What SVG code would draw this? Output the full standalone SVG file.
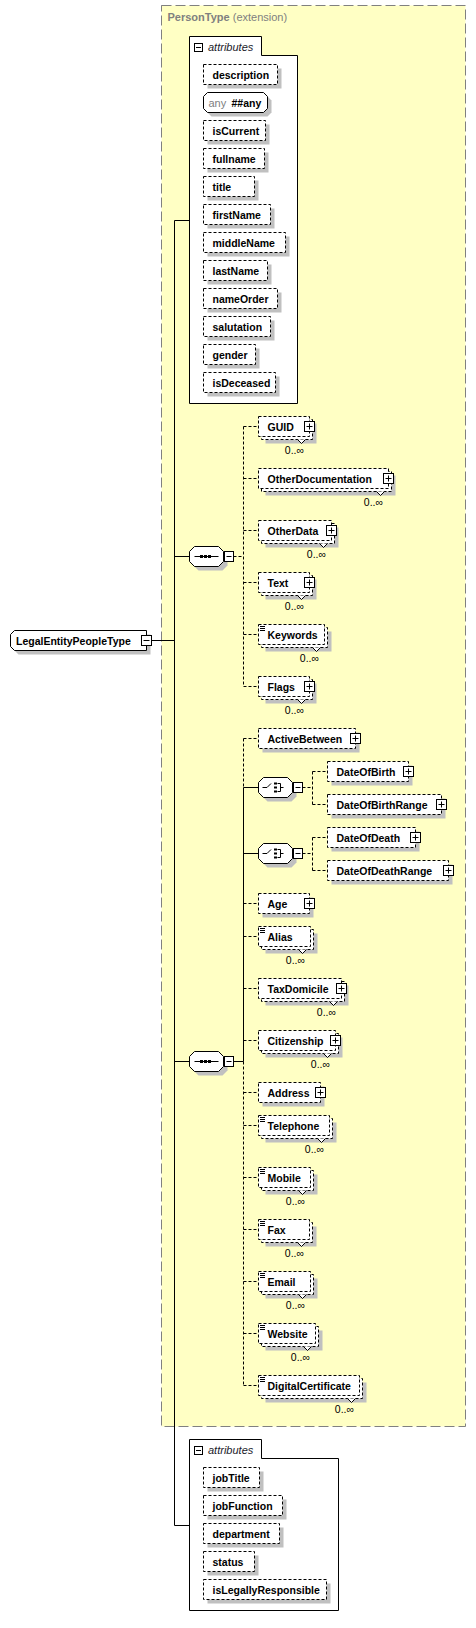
<svg xmlns="http://www.w3.org/2000/svg" xmlns:xlink="http://www.w3.org/1999/xlink" width="476" height="1628" viewBox="0 0 476 1628">
<style>
.sh{fill:#c0c0c0}
.el{fill:#fff;stroke:#000;stroke-dasharray:3,2}
.so{fill:#fff;stroke:#000}
.nt{fill:#fff;stroke:#000}
.ln{stroke:#000;fill:none}
.dl{stroke:#000;fill:none;stroke-dasharray:3,2}
.t{font-family:"Liberation Sans",Arial,sans-serif;font-size:10.5px;font-weight:bold;fill:#000}
.o{font-family:"Liberation Sans",Arial,sans-serif;font-size:10.5px;fill:#000;text-anchor:end}
.at{font-family:"Liberation Sans",Arial,sans-serif;font-size:11px;font-style:italic;fill:#1a1a2a}
.g{font-family:"Liberation Sans",Arial,sans-serif;font-size:11px;fill:#808080}
</style>
<defs>
<g id="pl"><rect width="10" height="10" class="so"/><path d="M2,5H8M5,2V8" class="ln"/></g>
<g id="mi"><rect width="10" height="10" class="so"/><path d="M2,5H8" class="ln"/></g>
<g id="mc"><rect width="9" height="10" class="so"/><path d="M2,5H7" class="ln"/></g>
<g id="ma"><rect width="8" height="8" class="so"/><path d="M1.5,4H6.5" class="ln"/></g>
</defs>

<g id="PersonType">
<rect x="161.5" y="5.5" width="304" height="1421" fill="#ffffc4" stroke="#808080" stroke-dasharray="10,4"/>
<text class="g" x="167.5" y="21"><tspan font-weight="bold">PersonType</tspan> (extension)</text>
</g>

<g id="connectors">
<path class="ln" d="M151.5,640.5H174.5M174.5,220.5V1525.5M174.5,220.5H189.5M174.5,556.5H189.5M174.5,1061.5H189.5M174.5,1525.5H189.5"/>
<path class="dl" d="M233.5,556.5H243.5M243.5,426.5V686.5M243.5,426.5H258.5M243.5,478.5H258.5M243.5,530.5H258.5M243.5,582.5H258.5M243.5,634.5H258.5M243.5,686.5H258.5"/>
<path class="ln" d="M233.5,1061.5H243.5M243.5,787.5V1061.5M243.5,787.5H258.5M243.5,853.5H258.5"/>
<path class="dl" d="M243.5,738.5V787.5M243.5,1061.5V1385.5M243.5,738.5H258.5M243.5,903.5H258.5M243.5,936.5H258.5M243.5,988.5H258.5M243.5,1040.5H258.5M243.5,1092.5H258.5M243.5,1125.5H258.5M243.5,1177.5H258.5M243.5,1229.5H258.5M243.5,1281.5H258.5M243.5,1333.5H258.5M243.5,1385.5H258.5"/>
<path class="dl" d="M302.5,787.5H312.5M312.5,771.5V804.5M312.5,771.5H327.5M312.5,804.5H327.5M302.5,853.5H312.5M312.5,837.5V870.5M312.5,837.5H327.5M312.5,870.5H327.5"/>
</g>

<g id="LegalEntityPeopleType">
<path class="sh" d="M18.5,634.5H150.5V654.5H18.5L14.5,650.5V638.5Z"/>
<path class="so" d="M14.5,630.5H146.5V650.5H14.5L10.5,646.5V634.5Z"/>
<text class="t" x="16" y="644.5">LegalEntityPeopleType</text>
<use xlink:href="#mi" x="141.5" y="635.5"/>
</g>

<g id="attributes1">
<path class="so" d="M189.5,36.5H261.5V55.5H297.5V403.5H189.5Z"/>
<use xlink:href="#ma" x="194.5" y="43.5"/>
<text class="at" x="208" y="50.5">attributes</text>
<g id="a-description"><rect class="sh" x="207.5" y="68.5" width="74" height="20"/><rect class="el" x="203.5" y="64.5" width="74" height="20"/><text class="t" x="212.5" y="78.5">description</text></g>
<g id="a-any"><path class="sh" d="M211.5,96.5H267.5L271.5,100.5V112.5L267.5,116.5H211.5L207.5,112.5V100.5Z"/><path class="so" d="M207.5,92.5H263.5L267.5,96.5V108.5L263.5,112.5H207.5L203.5,108.5V96.5Z"/><text class="g" x="208.5" y="106.5" font-size="10.5">any</text><text class="t" x="231.5" y="106.5">##any</text></g>
<g id="a-isCurrent"><rect class="sh" x="207.5" y="124.5" width="62" height="20"/><rect class="el" x="203.5" y="120.5" width="62" height="20"/><text class="t" x="212.5" y="134.5">isCurrent</text></g>
<g id="a-fullname"><rect class="sh" x="207.5" y="152.5" width="61" height="20"/><rect class="el" x="203.5" y="148.5" width="61" height="20"/><text class="t" x="212.5" y="162.5">fullname</text></g>
<g id="a-title"><rect class="sh" x="207.5" y="180.5" width="51" height="20"/><rect class="el" x="203.5" y="176.5" width="51" height="20"/><text class="t" x="212.5" y="190.5">title</text></g>
<g id="a-firstName"><rect class="sh" x="207.5" y="208.5" width="67" height="20"/><rect class="el" x="203.5" y="204.5" width="67" height="20"/><text class="t" x="212.5" y="218.5">firstName</text></g>
<g id="a-middleName"><rect class="sh" x="207.5" y="236.5" width="82" height="20"/><rect class="el" x="203.5" y="232.5" width="82" height="20"/><text class="t" x="212.5" y="246.5">middleName</text></g>
<g id="a-lastName"><rect class="sh" x="207.5" y="264.5" width="64" height="20"/><rect class="el" x="203.5" y="260.5" width="64" height="20"/><text class="t" x="212.5" y="274.5">lastName</text></g>
<g id="a-nameOrder"><rect class="sh" x="207.5" y="292.5" width="74" height="20"/><rect class="el" x="203.5" y="288.5" width="74" height="20"/><text class="t" x="212.5" y="302.5">nameOrder</text></g>
<g id="a-salutation"><rect class="sh" x="207.5" y="320.5" width="67" height="20"/><rect class="el" x="203.5" y="316.5" width="67" height="20"/><text class="t" x="212.5" y="330.5">salutation</text></g>
<g id="a-gender"><rect class="sh" x="207.5" y="348.5" width="52" height="20"/><rect class="el" x="203.5" y="344.5" width="52" height="20"/><text class="t" x="212.5" y="358.5">gender</text></g>
<g id="a-isDeceased"><rect class="sh" x="207.5" y="376.5" width="72" height="20"/><rect class="el" x="203.5" y="372.5" width="72" height="20"/><text class="t" x="212.5" y="386.5">isDeceased</text></g>
</g>

<g id="sequence1">
<path class="sh" d="M198.5,550.5H222.5L227.5,555.5V565.5L222.5,570.5H198.5L193.5,565.5V555.5Z"/>
<path class="so" d="M194.5,546.5H218.5L223.5,551.5V561.5L218.5,566.5H194.5L189.5,561.5V551.5Z"/>
<path class="ln" d="M194.5,556.5H218.5"/>
<rect x="200" y="555" width="3" height="3"/><rect x="204" y="555" width="3" height="3"/><rect x="208" y="555" width="3" height="3"/>
<use xlink:href="#mc" x="224.5" y="551.5"/>
</g>

<g id="GUID">
<rect class="sh" x="265.5" y="423.5" width="51" height="20"/><rect class="el" x="261.5" y="419.5" width="51" height="20"/>
<path class="nt" d="M297.5,439.5L301.5,443.5L305.5,439.5"/>
<rect class="el" x="258.5" y="416.5" width="51" height="20"/>
<text class="t" x="267.5" y="430.5">GUID</text><use xlink:href="#pl" x="304.5" y="421.5"/>
<text class="o" x="304" y="454">0..∞</text>
</g>
<g id="OtherDocumentation">
<rect class="sh" x="265.5" y="475.5" width="130" height="20"/><rect class="el" x="261.5" y="471.5" width="130" height="20"/>
<path class="nt" d="M376.5,491.5L380.5,495.5L384.5,491.5"/>
<rect class="el" x="258.5" y="468.5" width="130" height="20"/>
<text class="t" x="267.5" y="482.5">OtherDocumentation</text><use xlink:href="#pl" x="383.5" y="473.5"/>
<text class="o" x="383" y="506">0..∞</text>
</g>
<g id="OtherData">
<rect class="sh" x="265.5" y="527.5" width="73" height="20"/><rect class="el" x="261.5" y="523.5" width="73" height="20"/>
<path class="nt" d="M319.5,543.5L323.5,547.5L327.5,543.5"/>
<rect class="el" x="258.5" y="520.5" width="73" height="20"/>
<text class="t" x="267.5" y="534.5">OtherData</text><use xlink:href="#pl" x="326.5" y="525.5"/>
<text class="o" x="326" y="558">0..∞</text>
</g>
<g id="Text">
<rect class="sh" x="265.5" y="579.5" width="51" height="20"/><rect class="el" x="261.5" y="575.5" width="51" height="20"/>
<path class="nt" d="M297.5,595.5L301.5,599.5L305.5,595.5"/>
<rect class="el" x="258.5" y="572.5" width="51" height="20"/>
<text class="t" x="267.5" y="586.5">Text</text><use xlink:href="#pl" x="304.5" y="577.5"/>
<text class="o" x="304" y="610">0..∞</text>
</g>
<g id="Keywords">
<rect class="sh" x="265.5" y="631.5" width="66" height="20"/><rect class="el" x="261.5" y="627.5" width="66" height="20"/>
<path class="nt" d="M312.5,647.5L316.5,651.5L320.5,647.5"/>
<rect class="el" x="258.5" y="624.5" width="66" height="20"/>
<path class="ln" d="M260,626.5H265M260,628.5H265M260,630.5H265"/>
<text class="t" x="267.5" y="638.5">Keywords</text>
<text class="o" x="319" y="662">0..∞</text>
</g>
<g id="Flags">
<rect class="sh" x="265.5" y="683.5" width="51" height="20"/><rect class="el" x="261.5" y="679.5" width="51" height="20"/>
<path class="nt" d="M297.5,699.5L301.5,703.5L305.5,699.5"/>
<rect class="el" x="258.5" y="676.5" width="51" height="20"/>
<text class="t" x="267.5" y="690.5">Flags</text><use xlink:href="#pl" x="304.5" y="681.5"/>
<text class="o" x="304" y="714">0..∞</text>
</g>

<g id="sequence2">
<path class="sh" d="M198.5,1055.5H222.5L227.5,1060.5V1070.5L222.5,1075.5H198.5L193.5,1070.5V1060.5Z"/>
<path class="so" d="M194.5,1051.5H218.5L223.5,1056.5V1066.5L218.5,1071.5H194.5L189.5,1066.5V1056.5Z"/>
<path class="ln" d="M194.5,1061.5H218.5"/>
<rect x="200" y="1060" width="3" height="3"/><rect x="204" y="1060" width="3" height="3"/><rect x="208" y="1060" width="3" height="3"/>
<use xlink:href="#mc" x="224.5" y="1056.5"/>
</g>

<g id="ActiveBetween">
<rect class="sh" x="262.5" y="732.5" width="97" height="20"/><rect class="el" x="258.5" y="728.5" width="97" height="20"/>
<text class="t" x="267.5" y="742.5">ActiveBetween</text><use xlink:href="#pl" x="350.5" y="733.5"/>
</g>

<g id="choice1">
<path class="sh" d="M267.5,781.5H291.5L296.5,786.5V796.5L291.5,801.5H267.5L262.5,796.5V786.5Z"/>
<path class="so" d="M263.5,777.5H287.5L292.5,782.5V792.5L287.5,797.5H263.5L258.5,792.5V782.5Z"/>
<path class="ln" d="M262.5,787.5H267L271,783.5M277.5,783.5H280.5V791.5H277.5M280.5,787.5H283.5"/>
<rect x="274" y="782.5" width="3" height="2"/><rect x="274" y="786.5" width="3" height="2"/><rect x="274" y="790.5" width="3" height="2"/>
<use xlink:href="#mc" x="293.5" y="782.5"/>
</g>
<g id="DateOfBirth">
<rect class="sh" x="331.5" y="765.5" width="81" height="20"/><rect class="el" x="327.5" y="761.5" width="81" height="20"/>
<text class="t" x="336.5" y="775.5">DateOfBirth</text><use xlink:href="#pl" x="403.5" y="766.5"/>
</g>
<g id="DateOfBirthRange">
<rect class="sh" x="331.5" y="798.5" width="114" height="20"/><rect class="el" x="327.5" y="794.5" width="114" height="20"/>
<text class="t" x="336.5" y="808.5">DateOfBirthRange</text><use xlink:href="#pl" x="436.5" y="799.5"/>
</g>

<g id="choice2">
<path class="sh" d="M267.5,847.5H291.5L296.5,852.5V862.5L291.5,867.5H267.5L262.5,862.5V852.5Z"/>
<path class="so" d="M263.5,843.5H287.5L292.5,848.5V858.5L287.5,863.5H263.5L258.5,858.5V848.5Z"/>
<path class="ln" d="M262.5,853.5H267L271,849.5M277.5,849.5H280.5V857.5H277.5M280.5,853.5H283.5"/>
<rect x="274" y="848.5" width="3" height="2"/><rect x="274" y="852.5" width="3" height="2"/><rect x="274" y="856.5" width="3" height="2"/>
<use xlink:href="#mc" x="293.5" y="848.5"/>
</g>
<g id="DateOfDeath">
<rect class="sh" x="331.5" y="831.5" width="88" height="20"/><rect class="el" x="327.5" y="827.5" width="88" height="20"/>
<text class="t" x="336.5" y="841.5">DateOfDeath</text><use xlink:href="#pl" x="410.5" y="832.5"/>
</g>
<g id="DateOfDeathRange">
<rect class="sh" x="331.5" y="864.5" width="121" height="20"/><rect class="el" x="327.5" y="860.5" width="121" height="20"/>
<text class="t" x="336.5" y="874.5">DateOfDeathRange</text><use xlink:href="#pl" x="443.5" y="865.5"/>
</g>

<g id="Age">
<rect class="sh" x="262.5" y="897.5" width="51" height="20"/><rect class="el" x="258.5" y="893.5" width="51" height="20"/>
<text class="t" x="267.5" y="907.5">Age</text><use xlink:href="#pl" x="304.5" y="898.5"/>
</g>
<g id="Alias">
<rect class="sh" x="265.5" y="933.5" width="52" height="20"/><rect class="el" x="261.5" y="929.5" width="52" height="20"/>
<path class="nt" d="M298.5,949.5L302.5,953.5L306.5,949.5"/>
<rect class="el" x="258.5" y="926.5" width="52" height="20"/>
<path class="ln" d="M260,928.5H265M260,930.5H265M260,932.5H265"/>
<text class="t" x="267.5" y="940.5">Alias</text>
<text class="o" x="305" y="964">0..∞</text>
</g>
<g id="TaxDomicile">
<rect class="sh" x="265.5" y="985.5" width="83" height="20"/><rect class="el" x="261.5" y="981.5" width="83" height="20"/>
<path class="nt" d="M329.5,1001.5L333.5,1005.5L337.5,1001.5"/>
<rect class="el" x="258.5" y="978.5" width="83" height="20"/>
<text class="t" x="267.5" y="992.5">TaxDomicile</text><use xlink:href="#pl" x="336.5" y="983.5"/>
<text class="o" x="336" y="1016">0..∞</text>
</g>
<g id="Citizenship">
<rect class="sh" x="265.5" y="1037.5" width="77" height="20"/><rect class="el" x="261.5" y="1033.5" width="77" height="20"/>
<path class="nt" d="M323.5,1053.5L327.5,1057.5L331.5,1053.5"/>
<rect class="el" x="258.5" y="1030.5" width="77" height="20"/>
<text class="t" x="267.5" y="1044.5">Citizenship</text><use xlink:href="#pl" x="330.5" y="1035.5"/>
<text class="o" x="330" y="1068">0..∞</text>
</g>
<g id="Address">
<rect class="sh" x="262.5" y="1086.5" width="62" height="20"/><rect class="el" x="258.5" y="1082.5" width="62" height="20"/>
<text class="t" x="267.5" y="1096.5">Address</text><use xlink:href="#pl" x="315.5" y="1087.5"/>
</g>
<g id="Telephone">
<rect class="sh" x="265.5" y="1122.5" width="71" height="20"/><rect class="el" x="261.5" y="1118.5" width="71" height="20"/>
<path class="nt" d="M317.5,1138.5L321.5,1142.5L325.5,1138.5"/>
<rect class="el" x="258.5" y="1115.5" width="71" height="20"/>
<path class="ln" d="M260,1117.5H265M260,1119.5H265M260,1121.5H265"/>
<text class="t" x="267.5" y="1129.5">Telephone</text>
<text class="o" x="324" y="1153">0..∞</text>
</g>
<g id="Mobile">
<rect class="sh" x="265.5" y="1174.5" width="52" height="20"/><rect class="el" x="261.5" y="1170.5" width="52" height="20"/>
<path class="nt" d="M298.5,1190.5L302.5,1194.5L306.5,1190.5"/>
<rect class="el" x="258.5" y="1167.5" width="52" height="20"/>
<path class="ln" d="M260,1169.5H265M260,1171.5H265M260,1173.5H265"/>
<text class="t" x="267.5" y="1181.5">Mobile</text>
<text class="o" x="305" y="1205">0..∞</text>
</g>
<g id="Fax">
<rect class="sh" x="265.5" y="1226.5" width="51" height="20"/><rect class="el" x="261.5" y="1222.5" width="51" height="20"/>
<path class="nt" d="M297.5,1242.5L301.5,1246.5L305.5,1242.5"/>
<rect class="el" x="258.5" y="1219.5" width="51" height="20"/>
<path class="ln" d="M260,1221.5H265M260,1223.5H265M260,1225.5H265"/>
<text class="t" x="267.5" y="1233.5">Fax</text>
<text class="o" x="304" y="1257">0..∞</text>
</g>
<g id="Email">
<rect class="sh" x="265.5" y="1278.5" width="52" height="20"/><rect class="el" x="261.5" y="1274.5" width="52" height="20"/>
<path class="nt" d="M298.5,1294.5L302.5,1298.5L306.5,1294.5"/>
<rect class="el" x="258.5" y="1271.5" width="52" height="20"/>
<path class="ln" d="M260,1273.5H265M260,1275.5H265M260,1277.5H265"/>
<text class="t" x="267.5" y="1285.5">Email</text>
<text class="o" x="305" y="1309">0..∞</text>
</g>
<g id="Website">
<rect class="sh" x="265.5" y="1330.5" width="57" height="20"/><rect class="el" x="261.5" y="1326.5" width="57" height="20"/>
<path class="nt" d="M303.5,1346.5L307.5,1350.5L311.5,1346.5"/>
<rect class="el" x="258.5" y="1323.5" width="57" height="20"/>
<path class="ln" d="M260,1325.5H265M260,1327.5H265M260,1329.5H265"/>
<text class="t" x="267.5" y="1337.5">Website</text>
<text class="o" x="310" y="1361">0..∞</text>
</g>
<g id="DigitalCertificate">
<rect class="sh" x="265.5" y="1382.5" width="101" height="20"/><rect class="el" x="261.5" y="1378.5" width="101" height="20"/>
<path class="nt" d="M347.5,1398.5L351.5,1402.5L355.5,1398.5"/>
<rect class="el" x="258.5" y="1375.5" width="101" height="20"/>
<path class="ln" d="M260,1377.5H265M260,1379.5H265M260,1381.5H265"/>
<text class="t" x="267.5" y="1389.5">DigitalCertificate</text>
<text class="o" x="354" y="1413">0..∞</text>
</g>

<g id="attributes2">
<path class="so" d="M189.5,1439.5H261.5V1458.5H338.5V1610.5H189.5Z"/>
<use xlink:href="#ma" x="194.5" y="1446.5"/>
<text class="at" x="208" y="1453.5">attributes</text>
<g id="a-jobTitle"><rect class="sh" x="207.5" y="1471.5" width="56" height="20"/><rect class="el" x="203.5" y="1467.5" width="56" height="20"/><text class="t" x="212.5" y="1481.5">jobTitle</text></g>
<g id="a-jobFunction"><rect class="sh" x="207.5" y="1499.5" width="79" height="20"/><rect class="el" x="203.5" y="1495.5" width="79" height="20"/><text class="t" x="212.5" y="1509.5">jobFunction</text></g>
<g id="a-department"><rect class="sh" x="207.5" y="1527.5" width="76" height="20"/><rect class="el" x="203.5" y="1523.5" width="76" height="20"/><text class="t" x="212.5" y="1537.5">department</text></g>
<g id="a-status"><rect class="sh" x="207.5" y="1555.5" width="51" height="20"/><rect class="el" x="203.5" y="1551.5" width="51" height="20"/><text class="t" x="212.5" y="1565.5">status</text></g>
<g id="a-isLegallyResponsible"><rect class="sh" x="207.5" y="1583.5" width="123" height="20"/><rect class="el" x="203.5" y="1579.5" width="123" height="20"/><text class="t" x="212.5" y="1593.5">isLegallyResponsible</text></g>
</g>
</svg>
